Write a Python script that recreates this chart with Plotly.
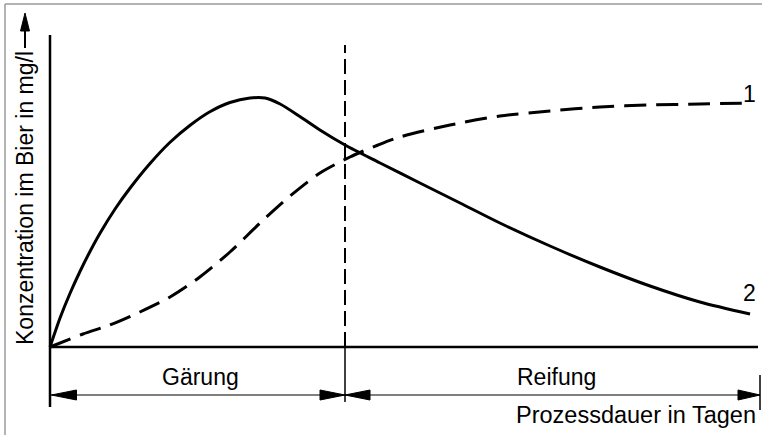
import plotly.graph_objects as go

# ---- data (days, mg/l; schematic) ----
solid_t = [0, 0.34, 0.68, 1.02, 1.36, 1.69, 2.2, 2.71, 3.39, 4.07, 4.75, 5.42, 6.1, 6.78, 7.29, 7.8,
           8.47, 9.15, 10.0, 11.19, 12.54, 13.9, 15.25, 16.95, 18.64, 20.34, 22.03, 23.73]
solid_c = [0, 1.16, 2.15, 3.03, 3.83, 4.54, 5.51, 6.35, 7.34, 8.19, 8.87, 9.41, 9.78, 9.96, 9.96, 9.72,
           9.22, 8.68, 8.08, 7.36, 6.56, 5.76, 4.96, 4.04, 3.2, 2.44, 1.8, 1.32]
dashed_t = [0, 1.12, 2.03, 3.05, 4.07, 5.08, 6.1, 7.12, 8.14, 9.15, 10.17, 11.12, 11.86, 13.56,
            15.25, 16.95, 18.64, 20.34, 22.03, 23.73]
dashed_c = [0, 0.52, 0.88, 1.4, 2.0, 2.8, 3.8, 4.96, 6.04, 6.96, 7.6, 8.08, 8.4, 8.88,
            9.24, 9.44, 9.6, 9.68, 9.72, 9.76]
phase_labels = ["Gärung", "Reifung"]
phase_bounds = [0, 10, 24]
curve_labels = ["1", "2"]
y_title = "Konzentration im Bier in mg/l"
x_title = "Prozessdauer in Tagen"

W, H = 762, 435
X0 = 50          # pixel of t=0
SX = 29.5        # px per day
Y0 = 347         # pixel of c=0
SY = 25          # px per mg/l
xr = [(0 - X0) / SX, (W - X0) / SX]
yr = [(Y0 - H) / SY, Y0 / SY]

def dx(px):
    return px / SX

def dy(px):
    return px / SY

FONT = "Liberation Sans, Arial, sans-serif"
fig = go.Figure()
fig.add_trace(go.Scatter(x=dashed_t, y=dashed_c, mode="lines", line=dict(color="black", width=3, dash="22px,10px", shape="spline", smoothing=0.8), hoverinfo="skip"))
fig.add_trace(go.Scatter(x=solid_t, y=solid_c, mode="lines", line=dict(color="black", width=3, shape="spline", smoothing=0.8), hoverinfo="skip"))

shapes = []
# axes
shapes.append(dict(type="line", x0=0, x1=0, y0=dy(-60), y1=dy(312), line=dict(color="black", width=2.5)))
shapes.append(dict(type="line", x0=0, x1=phase_bounds[-1], y0=0, y1=0, line=dict(color="black", width=2.5)))
# phase divider
mid = phase_bounds[1]
shapes.append(dict(type="line", x0=mid, x1=mid, y0=0, y1=dy(302), line=dict(color="black", width=2, dash="15px,6px")))
shapes.append(dict(type="line", x0=mid, x1=mid, y0=dy(-55), y1=0, line=dict(color="black", width=1.5)))
# right end tick
end = phase_bounds[-1] + dx(2)
shapes.append(dict(type="line", x0=end, x1=end, y0=dy(-63), y1=dy(-28), line=dict(color="black", width=1.5)))
# dimension line
ya = dy(-48)
shapes.append(dict(type="line", x0=0, x1=end, y0=ya, y1=ya, line=dict(color="black", width=1.2)))

def tri(tip_x, tip_y, direction, length=25, half=5):
    bx = tip_x + direction * dx(length)
    return dict(type="path", path=f"M {tip_x},{tip_y} L {bx},{tip_y + dy(half)} L {bx},{tip_y - dy(half)} Z",
                fillcolor="black", line=dict(color="black", width=1))

shapes.append(tri(0.05, ya, 1))
shapes.append(tri(mid, ya, -1))
shapes.append(tri(mid, ya, 1))
shapes.append(tri(end, ya, -1, length=22))

# border (grey)
shapes.append(dict(type="line", xref="paper", yref="paper", x0=5 / W, x1=1, y0=1 - 4 / H, y1=1 - 4 / H, line=dict(color="#9a9a9a", width=1.5)))
shapes.append(dict(type="line", xref="paper", yref="paper", x0=5 / W, x1=5 / W, y0=0, y1=1 - 4 / H, line=dict(color="#9a9a9a", width=1.5)))

# y title arrow
ax = 25 / W
shapes.append(dict(type="line", xref="paper", yref="paper", x0=ax, x1=ax, y0=1 - 48 / H, y1=1 - 28 / H, line=dict(color="black", width=2)))
shapes.append(dict(type="path", xref="paper", yref="paper",
                   path=f"M {ax},{1 - 13 / H} L {ax + 4.5 / W},{1 - 31 / H} L {ax - 4.5 / W},{1 - 31 / H} Z",
                   fillcolor="black", line=dict(color="black", width=1)))

ann = []
fs = 23
ann.append(dict(x=(phase_bounds[0] + phase_bounds[1]) / 2 + dx(3), y=dy(-30), text=phase_labels[0], showarrow=False, font=dict(size=fs, color="black", family=FONT), xanchor="center", yanchor="middle"))
ann.append(dict(x=(phase_bounds[1] + phase_bounds[2]) / 2 + dx(5), y=dy(-30), text=phase_labels[1], showarrow=False, font=dict(size=fs, color="black", family=FONT), xanchor="center", yanchor="middle"))
ann.append(dict(x=phase_bounds[-1] + dx(0), y=dy(-68), text=x_title, showarrow=False, font=dict(size=23.5, color="black", family=FONT), xanchor="right", yanchor="middle"))
ann.append(dict(x=dashed_t[-1] + dx(-1), y=dashed_c[-1] + dy(-6), text=curve_labels[0], showarrow=False, font=dict(size=fs, color="black", family=FONT), xanchor="center", yanchor="bottom"))
ann.append(dict(x=solid_t[-1] + dx(-1), y=solid_c[-1] + dy(6), text=curve_labels[1], showarrow=False, font=dict(size=fs, color="black", family=FONT), xanchor="center", yanchor="bottom"))
ann.append(dict(xref="paper", yref="paper", x=25 / W, y=1 - 198 / H, text=y_title, textangle=-90, showarrow=False, font=dict(size=fs, color="black", family=FONT), xanchor="center", yanchor="middle"))

fig.update_layout(
    width=W, height=H, margin=dict(l=0, r=0, t=0, b=0),
    paper_bgcolor="white", plot_bgcolor="white", showlegend=False,
    xaxis=dict(range=xr, visible=False, fixedrange=True),
    yaxis=dict(range=yr, visible=False, fixedrange=True),
    shapes=shapes, annotations=ann,
)
fig.write_html("out.html", config={"displayModeBar": False},
               post_script="document.body.style.margin='0';document.body.style.overflow='hidden';")
